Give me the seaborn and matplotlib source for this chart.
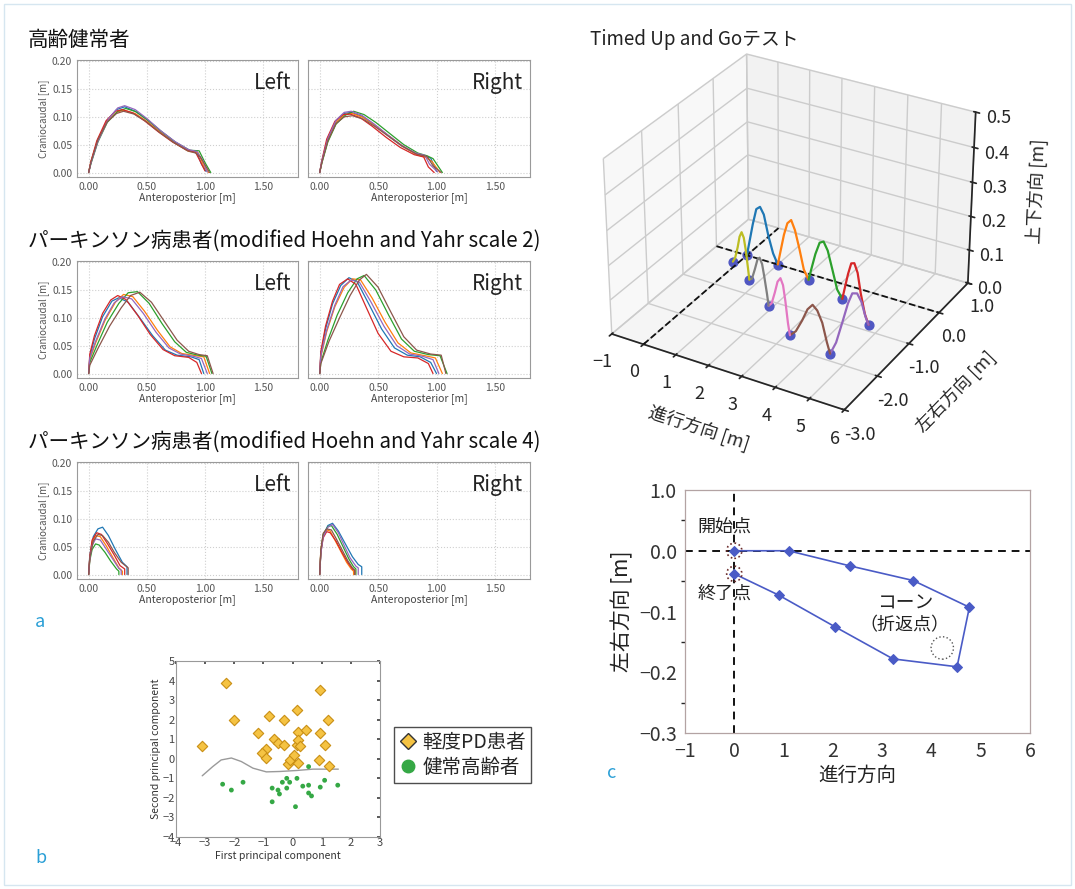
import matplotlib
matplotlib.use("Agg")
import matplotlib.pyplot as plt
import seaborn as sns
from matplotlib.lines import Line2D
from matplotlib.ticker import FormatStrFormatter, MultipleLocator

# ---- panel a : foot trajectories (Anteroposterior vs Craniocaudal) ----
healthy_left_x = [
    [0, 0.02, 0.08, 0.16, 0.24, 0.31, 0.40, 0.50, 0.62, 0.74, 0.86, 0.93, 0.97, 1.01],
    [0, 0.02, 0.08, 0.16, 0.24, 0.30, 0.40, 0.50, 0.62, 0.74, 0.86, 0.94, 0.99, 1.03],
    [0, 0.02, 0.08, 0.16, 0.25, 0.32, 0.41, 0.51, 0.63, 0.75, 0.87, 0.95, 1.00, 1.05],
    [0, 0.02, 0.07, 0.15, 0.23, 0.29, 0.38, 0.48, 0.60, 0.72, 0.84, 0.92, 0.96, 1.00],
    [0, 0.02, 0.08, 0.17, 0.25, 0.31, 0.40, 0.50, 0.62, 0.74, 0.86, 0.93, 0.98, 1.02],
    [0, 0.02, 0.08, 0.16, 0.24, 0.30, 0.39, 0.49, 0.61, 0.73, 0.85, 0.92, 0.96, 1.04],
]
healthy_left_y = [
    [0, 0.018, 0.058, 0.094, 0.113, 0.118, 0.110, 0.095, 0.074, 0.055, 0.040, 0.037, 0.015, 0.002],
    [0, 0.020, 0.060, 0.092, 0.108, 0.112, 0.106, 0.092, 0.072, 0.053, 0.038, 0.036, 0.012, 0.0],
    [0, 0.016, 0.055, 0.090, 0.110, 0.115, 0.109, 0.094, 0.073, 0.054, 0.040, 0.039, 0.018, 0.0],
    [0, 0.020, 0.057, 0.093, 0.110, 0.113, 0.107, 0.093, 0.073, 0.055, 0.041, 0.036, 0.020, 0.003],
    [0, 0.017, 0.056, 0.096, 0.116, 0.120, 0.113, 0.097, 0.075, 0.056, 0.041, 0.038, 0.022, 0.001],
    [0, 0.019, 0.059, 0.091, 0.106, 0.110, 0.105, 0.092, 0.072, 0.054, 0.039, 0.035, 0.028, 0.0],
]
healthy_right_x = [
    [0, 0.02, 0.07, 0.14, 0.21, 0.27, 0.36, 0.46, 0.58, 0.70, 0.82, 0.90, 0.95, 1.00],
    [0, 0.02, 0.07, 0.14, 0.21, 0.28, 0.37, 0.47, 0.59, 0.71, 0.83, 0.91, 0.96, 1.03],
    [0, 0.02, 0.07, 0.14, 0.22, 0.29, 0.38, 0.48, 0.60, 0.72, 0.84, 0.92, 0.97, 1.05],
    [0, 0.02, 0.06, 0.13, 0.20, 0.26, 0.35, 0.45, 0.57, 0.69, 0.81, 0.89, 0.93, 0.98],
    [0, 0.02, 0.07, 0.14, 0.21, 0.27, 0.36, 0.46, 0.58, 0.70, 0.82, 0.90, 0.94, 1.01],
    [0, 0.02, 0.07, 0.14, 0.21, 0.28, 0.37, 0.47, 0.59, 0.71, 0.83, 0.92, 0.97, 1.04],
]
healthy_right_y = [
    [0, 0.022, 0.062, 0.093, 0.106, 0.108, 0.101, 0.087, 0.067, 0.048, 0.034, 0.029, 0.026, 0.002],
    [0, 0.020, 0.058, 0.090, 0.104, 0.106, 0.099, 0.085, 0.066, 0.047, 0.032, 0.027, 0.020, 0.0],
    [0, 0.018, 0.055, 0.087, 0.103, 0.110, 0.104, 0.090, 0.070, 0.050, 0.035, 0.030, 0.025, 0.0],
    [0, 0.023, 0.060, 0.092, 0.104, 0.105, 0.098, 0.083, 0.063, 0.045, 0.032, 0.028, 0.010, 0.0],
    [0, 0.021, 0.061, 0.094, 0.108, 0.110, 0.103, 0.088, 0.068, 0.049, 0.035, 0.031, 0.015, 0.001],
    [0, 0.019, 0.057, 0.088, 0.100, 0.102, 0.096, 0.083, 0.065, 0.047, 0.033, 0.029, 0.012, 0.0],
]
hy2_left_x = [
    [0, 0.01, 0.05, 0.12, 0.20, 0.26, 0.34, 0.44, 0.55, 0.66, 0.76, 0.88, 0.95, 0.99],
    [0, 0.01, 0.06, 0.14, 0.23, 0.30, 0.38, 0.48, 0.59, 0.70, 0.80, 0.92, 0.99, 1.04],
    [0, 0.01, 0.07, 0.16, 0.26, 0.34, 0.42, 0.52, 0.63, 0.74, 0.84, 0.94, 1.01, 1.06],
    [0, 0.01, 0.05, 0.12, 0.19, 0.25, 0.32, 0.42, 0.53, 0.64, 0.74, 0.86, 0.93, 0.97],
    [0, 0.01, 0.06, 0.14, 0.22, 0.29, 0.37, 0.47, 0.58, 0.69, 0.79, 0.90, 0.97, 1.02],
    [0, 0.01, 0.08, 0.18, 0.28, 0.36, 0.44, 0.54, 0.65, 0.76, 0.86, 0.95, 1.02, 1.07],
]
hy2_left_y = [
    [0, 0.030, 0.062, 0.102, 0.130, 0.136, 0.128, 0.100, 0.068, 0.042, 0.033, 0.030, 0.025, 0.0],
    [0, 0.025, 0.055, 0.095, 0.128, 0.142, 0.138, 0.112, 0.078, 0.048, 0.036, 0.032, 0.030, 0.0],
    [0, 0.020, 0.050, 0.092, 0.126, 0.145, 0.147, 0.126, 0.090, 0.057, 0.038, 0.033, 0.031, 0.0],
    [0, 0.035, 0.068, 0.108, 0.132, 0.140, 0.133, 0.105, 0.070, 0.043, 0.032, 0.029, 0.020, 0.0],
    [0, 0.028, 0.058, 0.098, 0.127, 0.138, 0.134, 0.108, 0.074, 0.046, 0.035, 0.031, 0.027, 0.0],
    [0, 0.015, 0.045, 0.085, 0.118, 0.140, 0.146, 0.128, 0.094, 0.060, 0.040, 0.034, 0.032, 0.0],
]
hy2_right_x = [
    [0, 0.01, 0.05, 0.11, 0.18, 0.25, 0.32, 0.42, 0.53, 0.64, 0.75, 0.86, 0.95, 1.00],
    [0, 0.01, 0.06, 0.13, 0.21, 0.28, 0.35, 0.45, 0.56, 0.67, 0.78, 0.90, 0.99, 1.05],
    [0, 0.01, 0.07, 0.15, 0.24, 0.32, 0.38, 0.48, 0.59, 0.70, 0.81, 0.93, 1.03, 1.09],
    [0, 0.01, 0.05, 0.11, 0.17, 0.24, 0.31, 0.40, 0.50, 0.61, 0.72, 0.84, 0.93, 0.97],
    [0, 0.01, 0.06, 0.13, 0.20, 0.27, 0.34, 0.44, 0.55, 0.66, 0.77, 0.88, 0.97, 1.02],
    [0, 0.01, 0.08, 0.17, 0.26, 0.34, 0.40, 0.50, 0.61, 0.72, 0.83, 0.95, 1.04, 1.08],
]
hy2_right_y = [
    [0, 0.035, 0.080, 0.125, 0.158, 0.172, 0.165, 0.125, 0.080, 0.046, 0.033, 0.030, 0.020, 0.0],
    [0, 0.030, 0.075, 0.120, 0.155, 0.170, 0.168, 0.135, 0.092, 0.055, 0.037, 0.032, 0.028, 0.0],
    [0, 0.020, 0.060, 0.105, 0.145, 0.170, 0.176, 0.150, 0.105, 0.062, 0.040, 0.034, 0.032, 0.0],
    [0, 0.040, 0.085, 0.130, 0.160, 0.170, 0.160, 0.118, 0.072, 0.040, 0.030, 0.028, 0.018, 0.0],
    [0, 0.032, 0.078, 0.123, 0.156, 0.168, 0.164, 0.128, 0.085, 0.050, 0.035, 0.031, 0.025, 0.0],
    [0, 0.018, 0.058, 0.100, 0.140, 0.168, 0.178, 0.155, 0.110, 0.066, 0.042, 0.035, 0.033, 0.0],
]
hy4_left_x = [
    [0, 0.01, 0.04, 0.08, 0.12, 0.17, 0.23, 0.29, 0.33, 0.33],
    [0, 0.01, 0.03, 0.06, 0.10, 0.15, 0.21, 0.26, 0.29, 0.29],
    [0, 0.01, 0.03, 0.06, 0.09, 0.14, 0.19, 0.24, 0.26, 0.26],
    [0, 0.01, 0.03, 0.07, 0.11, 0.16, 0.22, 0.27, 0.31, 0.31],
    [0, 0.01, 0.03, 0.06, 0.10, 0.15, 0.21, 0.26, 0.28, 0.28],
    [0, 0.01, 0.04, 0.08, 0.12, 0.17, 0.22, 0.28, 0.34, 0.34],
]
hy4_left_y = [
    [0, 0.035, 0.068, 0.082, 0.085, 0.070, 0.045, 0.022, 0.014, 0.0],
    [0, 0.030, 0.058, 0.070, 0.068, 0.052, 0.030, 0.012, 0.006, 0.0],
    [0, 0.025, 0.045, 0.055, 0.053, 0.040, 0.024, 0.010, 0.006, 0.0],
    [0, 0.032, 0.062, 0.075, 0.072, 0.056, 0.035, 0.016, 0.010, 0.0],
    [0, 0.028, 0.052, 0.064, 0.062, 0.046, 0.027, 0.011, 0.008, 0.0],
    [0, 0.030, 0.060, 0.072, 0.070, 0.058, 0.040, 0.022, 0.012, 0.0],
]
hy4_right_x = [
    [0, 0.01, 0.03, 0.07, 0.11, 0.16, 0.22, 0.28, 0.33, 0.36, 0.36],
    [0, 0.01, 0.03, 0.06, 0.09, 0.13, 0.18, 0.23, 0.27, 0.29, 0.29],
    [0, 0.01, 0.03, 0.07, 0.10, 0.15, 0.20, 0.25, 0.29, 0.31, 0.31],
    [0, 0.01, 0.03, 0.06, 0.09, 0.14, 0.19, 0.24, 0.28, 0.30, 0.30],
    [0, 0.01, 0.03, 0.07, 0.11, 0.16, 0.21, 0.26, 0.31, 0.33, 0.33],
    [0, 0.01, 0.03, 0.06, 0.10, 0.14, 0.19, 0.24, 0.28, 0.30, 0.30],
]
hy4_right_y = [
    [0, 0.040, 0.070, 0.088, 0.092, 0.078, 0.055, 0.032, 0.018, 0.014, 0.0],
    [0, 0.045, 0.070, 0.080, 0.078, 0.062, 0.042, 0.022, 0.010, 0.006, 0.0],
    [0, 0.042, 0.072, 0.086, 0.088, 0.072, 0.050, 0.028, 0.014, 0.010, 0.0],
    [0, 0.040, 0.066, 0.077, 0.075, 0.060, 0.040, 0.022, 0.010, 0.007, 0.0],
    [0, 0.038, 0.068, 0.085, 0.090, 0.075, 0.052, 0.030, 0.015, 0.012, 0.0],
    [0, 0.044, 0.074, 0.082, 0.080, 0.065, 0.045, 0.025, 0.012, 0.008, 0.0],
]
row_titles = ["高齢健常者",
              "パーキンソン病患者(modified Hoehn and Yahr scale 2)",
              "パーキンソン病患者(modified Hoehn and Yahr scale 4)"]
side_labels = ["Left", "Right"]

# ---- panel b : principal components ----
pd_pc1 = [-3.1, -2.3, -2.0, -1.2, -0.8, -0.9, -1.05, -0.9, -0.65, -0.5, -0.3, -0.3, -0.15,
          -0.1, 0.05, 0.15, 0.15, 0.2, 0.2, 0.25, 0.2, 0.45, 0.95, 0.95, 0.9, 1.1, 1.2, 1.25]
pd_pc2 = [0.65, 3.9, 2.0, 1.3, 2.2, 0.5, 0.3, 0.05, 1.0, 0.8, 0.7, 2.0, -0.25,
          -0.05, 0.2, 0.7, 2.5, 1.35, 0.95, 0.65, -0.2, 1.45, 3.5, 1.3, -0.05, 0.7, 2.0, -0.35]
hc_pc1 = [-2.4, -2.1, -1.7, -0.7, -0.7, -0.5, -0.45, -0.35, -0.2, -0.1, -0.2, 0.15, 0.1,
          0.35, 0.55, 0.55, 0.55, 0.65, 0.95, 1.1, 1.55]
hc_pc2 = [-1.3, -1.6, -1.2, -1.5, -2.2, -1.6, -1.8, -1.2, -1.0, -1.2, -1.5, -1.0, -2.45,
          -1.4, -0.4, -1.35, -1.75, -1.9, -1.45, -1.1, -1.35]
boundary_x = [-3.1, -2.74, -2.45, -2.1, -1.76, -1.36, -0.9, -0.44, 0.13, 0.7, 1.57]
boundary_y = [-0.87, -0.4, -0.06, 0.04, -0.14, -0.48, -0.67, -0.65, -0.6, -0.53, -0.53]
legend_labels = ["軽度PD患者", "健常高齢者"]

# ---- panel c : Timed Up and Go path (top view) ----
path_x = [0.0, 1.1, 2.35, 3.63, 4.77, 4.52, 3.22, 2.04, 0.9, 0.0]
path_y = [0.0, 0.0, -0.025, -0.049, -0.093, -0.191, -0.178, -0.125, -0.073, -0.038]
marker_x = [0.0, 0.0]
marker_y = [0.0, -0.038]
cone_x = [4.22]
cone_y = [-0.16]
c_yticks = [0.1, 0.0, -0.1, -0.2, -0.3]
c_yticklabels = ["1.0", "0.0", "\u22120.1", "\u22120.2", "\u22120.3"]
c_xticks = [-1, 0, 1, 2, 3, 4, 5, 6]

# ---- 3D panel : one arc per step ----
foot_x = [0.0, 1.0, 2.14, 3.42, 4.65, 4.45, 3.1, 1.87, 0.73, -0.16]
foot_y = [0.0, 0.0, -0.16, -0.39, -0.84, -1.83, -1.69, -1.13, -0.62, -0.28]
step_x = [
    [0, 0.08, 0.2, 0.32, 0.44, 0.56, 0.7, 0.85, 1.0],
    [1.0, 1.09, 1.23, 1.36, 1.50, 1.64, 1.80, 1.97, 2.14],
    [2.14, 2.24, 2.40, 2.55, 2.70, 2.86, 3.04, 3.23, 3.42],
    [3.42, 3.52, 3.67, 3.81, 3.96, 4.11, 4.28, 4.47, 4.65],
    [4.65, 4.63, 4.61, 4.59, 4.56, 4.54, 4.51, 4.48, 4.45],
    [4.45, 4.34, 4.18, 4.02, 3.86, 3.69, 3.51, 3.30, 3.10],
    [3.10, 3.00, 2.85, 2.71, 2.56, 2.41, 2.24, 2.05, 1.87],
    [1.87, 1.78, 1.64, 1.51, 1.37, 1.23, 1.07, 0.90, 0.73],
    [0.73, 0.66, 0.55, 0.45, 0.34, 0.23, 0.11, -0.03, -0.16],
]
step_y = [
    [0, 0, 0, 0, 0, 0, 0, 0, 0],
    [0, -0.01, -0.03, -0.05, -0.07, -0.09, -0.11, -0.14, -0.16],
    [-0.16, -0.18, -0.21, -0.23, -0.26, -0.29, -0.32, -0.36, -0.39],
    [-0.39, -0.43, -0.48, -0.53, -0.59, -0.64, -0.71, -0.77, -0.84],
    [-0.84, -0.92, -1.04, -1.16, -1.28, -1.39, -1.53, -1.68, -1.83],
    [-1.83, -1.82, -1.80, -1.79, -1.77, -1.75, -1.73, -1.71, -1.69],
    [-1.69, -1.65, -1.58, -1.51, -1.44, -1.38, -1.30, -1.21, -1.13],
    [-1.13, -1.09, -1.03, -0.97, -0.91, -0.84, -0.77, -0.70, -0.62],
    [-0.62, -0.59, -0.55, -0.51, -0.47, -0.43, -0.38, -0.33, -0.28],
]
step_z = [
    [0, 0.04, 0.10, 0.15, 0.16, 0.14, 0.08, 0.03, 0],
    [0, 0.04, 0.10, 0.14, 0.155, 0.13, 0.08, 0.025, 0],
    [0, 0.035, 0.09, 0.13, 0.14, 0.12, 0.07, 0.02, 0],
    [0, 0.035, 0.09, 0.13, 0.14, 0.12, 0.07, 0.02, 0],
    [0, 0.03, 0.085, 0.12, 0.13, 0.11, 0.065, 0.02, 0],
    [0, 0.03, 0.08, 0.11, 0.12, 0.10, 0.06, 0.02, 0],
    [0, 0.03, 0.085, 0.12, 0.13, 0.11, 0.065, 0.02, 0],
    [0, 0.03, 0.07, 0.10, 0.11, 0.095, 0.055, 0.015, 0],
    [0, 0.03, 0.08, 0.11, 0.12, 0.10, 0.06, 0.02, 0],
]
xlim_3d = [-1, 6]
ylim_3d = [-3, 1]
zlim_3d = [0, 0.5]
y_ticks_3d = [1, 0, -1, -2, -3]
z_ticks_3d = [0, 0.1, 0.2, 0.3, 0.4, 0.5]

sns.set_theme(style="white")
plt.rcParams["font.family"] = ["Noto Sans CJK JP", "DejaVu Sans"]
plt.rcParams["axes.unicode_minus"] = True

W, H = 1075, 889
fig = plt.figure(figsize=(W / 100, H / 100), dpi=100)
pal = sns.color_palette("tab10")


def box(x0, y0, x1, y1):
    return [x0 / W, 1 - y1 / H, (x1 - x0) / W, (y1 - y0) / H]


# ---------------- panel a ----------------
rows = [
    [(healthy_left_x, healthy_left_y), (healthy_right_x, healthy_right_y)],
    [(hy2_left_x, hy2_left_y), (hy2_right_x, hy2_right_y)],
    [(hy4_left_x, hy4_left_y), (hy4_right_x, hy4_right_y)],
]
row_tops = [60, 261, 462]
col_lr = [(77, 298), (308, 530)]
for r, row in enumerate(rows):
    t = row_tops[r]
    fig.text(28 / W, 1 - (t - 20) / H, row_titles[r], fontsize=14.8, va="center", ha="left", color="#111")
    for c, (xs_list, ys_list) in enumerate(row):
        ax = fig.add_axes(box(col_lr[c][0], t, col_lr[c][1], t + 117))
        for i, (xs, ys) in enumerate(zip(xs_list, ys_list)):
            sns.lineplot(x=xs, y=ys, ax=ax, sort=False, estimator=None, color=pal[i % 10], linewidth=0.9)
        ax.set_xlim(-0.1, 1.8)
        ax.set_ylim(-0.008, 0.202)
        ax.set_xticks([0, 0.5, 1.0, 1.5])
        ax.set_yticks([0, 0.05, 0.1, 0.15, 0.2])
        ax.xaxis.set_major_formatter(FormatStrFormatter("%.2f"))
        ax.yaxis.set_major_formatter(FormatStrFormatter("%.2f"))
        ax.grid(True, color="#cfcfcf", linestyle=":", linewidth=0.8)
        for s in ax.spines.values():
            s.set_color("#9a9a9a")
            s.set_linewidth(0.8)
        ax.tick_params(labelsize=7.5, colors="#555", length=2, pad=1.5)
        ax.set_xlabel("Anteroposterior [m]", fontsize=7.5, color="#444", labelpad=0.5)
        if c == 0:
            ax.set_ylabel("Craniocaudal [m]", fontsize=7, color="#555", labelpad=2)
        else:
            ax.tick_params(axis="y", labelleft=False)
            ax.set_ylabel("")
        ax.text(0.97, 0.8, side_labels[c], transform=ax.transAxes, ha="right", va="center",
                fontsize=15, color="#222")

fig.text(35 / W, 1 - 622 / H, "a", fontsize=13, color="#2a9fd6", va="center")

# ---------------- panel b ----------------
axb = fig.add_axes(box(176, 661, 380, 837))
sns.lineplot(x=boundary_x, y=boundary_y, ax=axb, sort=False, estimator=None, color="#9a9a9a", linewidth=1.0)
sns.scatterplot(x=pd_pc1, y=pd_pc2, ax=axb, marker="D", s=28, color="#f5c343",
                edgecolor="#c98f14", linewidth=0.8, zorder=3)
sns.scatterplot(x=hc_pc1, y=hc_pc2, ax=axb, marker="o", s=12, color="#35a845",
                edgecolor="none", zorder=3)
axb.set_xlim(-4, 3)
axb.set_ylim(-4, 5)
axb.set_xticks(range(-4, 4))
axb.set_yticks(range(-4, 6))
for s in axb.spines.values():
    s.set_color("#999")
    s.set_linewidth(0.8)
axb.tick_params(labelsize=8, colors="#444", length=2, pad=1, direction="in", top=True, right=True)
axb.set_xlabel("First principal component", fontsize=7.5, color="#333", labelpad=2)
axb.set_ylabel("Second principal component", fontsize=7.5, color="#333", labelpad=1)
handles = [Line2D([], [], marker="D", ls="", mfc="#f5c343", mec="#333", ms=8, mew=1.0),
           Line2D([], [], marker="o", ls="", mfc="#35a845", mec="#35a845", ms=9)]
fig.legend(handles=handles, labels=legend_labels, loc="upper left",
           bbox_to_anchor=(394 / W, 1 - 727 / H), frameon=True, fancybox=False, edgecolor="#222",
           fontsize=14, handlelength=0.9, handletextpad=0.3, borderpad=0.25, labelspacing=0.2,
           borderaxespad=0)
fig.text(35 / W, 1 - 858 / H, "b", fontsize=13, color="#2a9fd6", va="center")

# ---------------- panel c ----------------
axc = fig.add_axes(box(685, 490, 1030, 733))
axc.axhline(0, color="#111", linestyle=(0, (4, 3)), linewidth=1.4, zorder=1)
axc.axvline(0, color="#111", linestyle=(0, (4, 3)), linewidth=1.4, zorder=1)
sns.lineplot(x=path_x, y=path_y, ax=axc, sort=False, estimator=None, color="#4a5bc6",
             marker="D", markersize=5, markeredgecolor="#4a5bc6", linewidth=1.2, zorder=3)
axc.scatter(marker_x, marker_y, s=120, facecolors="none", edgecolors="#6a2a2a",
            linestyles=":", linewidths=1.2, zorder=4)
axc.scatter(cone_x, cone_y, s=260, facecolors="none", edgecolors="#555",
            linestyles=":", linewidths=1.0, zorder=4)
axc.text(-0.2, 0.04, "開始点", fontsize=13, ha="center", va="center", color="#222", zorder=0)
axc.text(-0.2, -0.071, "終了点", fontsize=13, ha="center", va="center", color="#222", zorder=0)
axc.text(3.46, -0.087, "コーン", fontsize=13.5, ha="center", va="center", color="#222")
axc.text(3.46, -0.122, "（折返点）", fontsize=13, ha="center", va="center", color="#222")
axc.set_xlim(-1, 6)
axc.set_ylim(-0.3, 0.1)
axc.set_xticks(c_xticks)
axc.set_yticks(c_yticks)
axc.set_yticklabels(c_yticklabels)
axc.yaxis.set_minor_locator(MultipleLocator(0.05))
for s in axc.spines.values():
    s.set_color("#b3a3a3")
    s.set_linewidth(0.9)
axc.tick_params(labelsize=14, colors="#333", length=4, pad=2, direction="out")
axc.tick_params(which="minor", axis="y", length=3, left=True)
axc.set_xlabel("進行方向", fontsize=14, color="#222", labelpad=2)
axc.set_ylabel("左右方向 [m]", fontsize=15, color="#222", labelpad=4)
fig.text(607 / W, 1 - 773 / H, "c", fontsize=13, color="#2a9fd6", va="center")

# ---------------- 3D panel ----------------
fig.text(590 / W, 1 - 40 / H, "Timed Up and Goテスト", fontsize=13.5, va="center", ha="left", color="#222")
ax3 = fig.add_axes(box(543, 22, 1032, 436), projection="3d")
ax3.plot(xlim_3d, [0, 0], [0, 0], color="#111", linestyle="--", linewidth=1.3)
ax3.plot([0, 0], ylim_3d, [0, 0], color="#111", linestyle="--", linewidth=1.3)
for k in range(len(step_x)):
    ax3.plot(step_x[k], step_y[k], step_z[k], color=pal[k % 10], linewidth=1.6)
ax3.scatter(foot_x, foot_y, [0] * len(foot_x), color="#5057c2", s=40, depthshade=False, zorder=5)
ax3.set_xlim(*xlim_3d)
ax3.set_ylim(*ylim_3d)
ax3.set_zlim(*zlim_3d)
ax3.set_xticks(range(-1, 7))
ax3.set_yticks(y_ticks_3d)
ax3.set_zticks(z_ticks_3d)
ax3.yaxis.set_major_formatter(FormatStrFormatter("%.1f"))
ax3.zaxis.set_major_formatter(FormatStrFormatter("%.1f"))
ax3.tick_params(labelsize=13, pad=2)
ax3.set_xlabel("進行方向 [m]", fontsize=13, labelpad=8)
ax3.set_ylabel("左右方向 [m]", fontsize=13, labelpad=10)
ax3.set_zlabel("上下方向 [m]", fontsize=13, labelpad=8)
ax3.zaxis.set_ticks_position("upper")
ax3.zaxis.set_label_position("upper")
ax3.view_init(elev=30, azim=-60)

fig.patches.append(plt.Rectangle((4 / W, 4 / H), 1 - 8 / W, 1 - 8 / H, transform=fig.transFigure,
                                 fill=False, edgecolor="#d6e6f0", linewidth=1.0))

fig.savefig("out.png", dpi=100)
